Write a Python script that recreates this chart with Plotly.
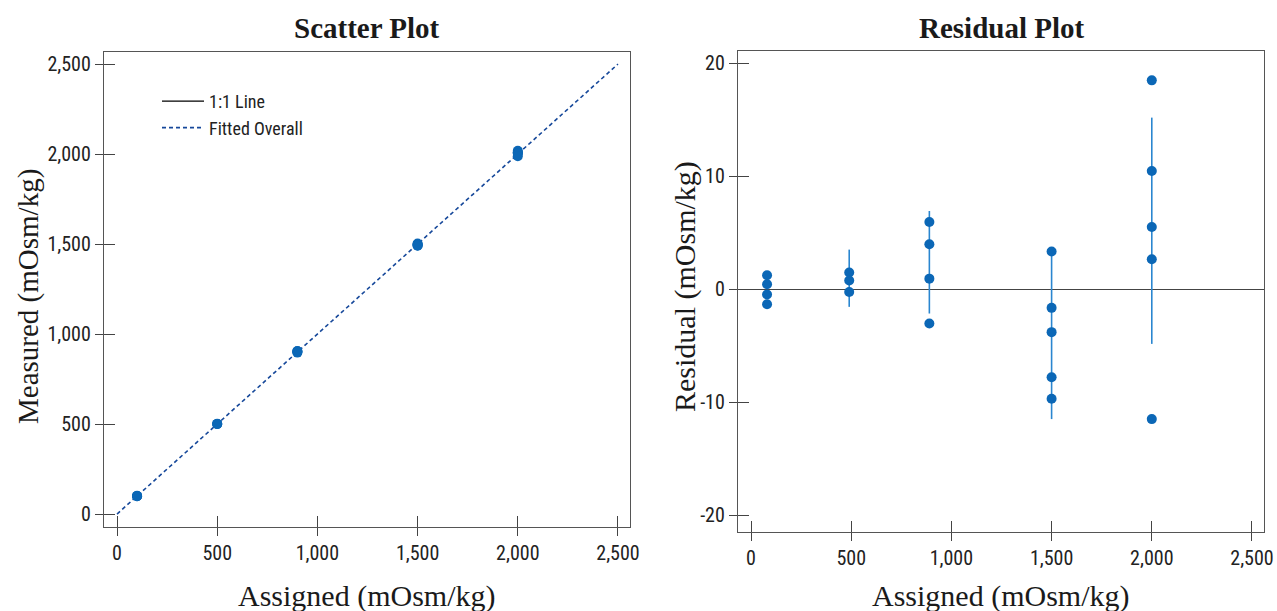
import plotly.graph_objects as go

# ---------------- data ----------------
assigned_levels = [100, 500, 900, 1500, 2000]
residual_x_levels = [80, 490, 890, 1500, 2000]
residuals = [
    [1.24, 0.44, -0.47, -1.33],
    [1.48, 0.77, -0.24],
    [5.96, 3.98, 0.94, -3.04],
    [3.34, -1.65, -3.8, -7.8, -9.7],
    [18.5, 10.47, 5.51, 2.65, -11.5],
]
interval_low = [None, -1.56, -2.15, -11.5, -4.84]
interval_high = [None, 3.51, 6.93, 3.74, 15.2]
line_range = [0, 2500]
x_ticks = [0, 500, 1000, 1500, 2000, 2500]
x_tick_labels = ["0", "500", "1,000", "1,500", "2,000", "2,500"]
left_y_ticks = [0, 500, 1000, 1500, 2000, 2500]
left_y_tick_labels = ["0", "500", "1,000", "1,500", "2,000", "2,500"]
right_y_ticks = [-20, -10, 0, 10, 20]
right_y_tick_labels = ["-20", "-10", "0", "10", "20"]

# derived
sc_x, sc_y, rx, ry = [], [], [], []
for a, ra, res in zip(assigned_levels, residual_x_levels, residuals):
    for r in res:
        sc_x.append(a)
        sc_y.append(a + r)
        rx.append(ra)
        ry.append(r)
ex, ey = [], []
for ra, lo, hi in zip(residual_x_levels, interval_low, interval_high):
    if lo is None:
        continue
    ex += [ra, ra, None]
    ey += [lo, hi, None]

MARK = "#0b67b6"
ERR = "#2a86d0"
FIT = "#16489a"
SANS = "Liberation Sans Narrow, Roboto Condensed, Liberation Sans, Arial"
SERIF = "Liberation Serif, DejaVu Serif, serif"

fig = go.Figure()
# 1:1 line lies under the fitted line; shown through its legend entry
fig.add_trace(go.Scatter(x=[None], y=[None], mode="lines", name="1:1 Line",
                         line=dict(color="black", width=1.3), xaxis="x", yaxis="y"))
fig.add_trace(go.Scatter(x=line_range, y=line_range, mode="lines", name="Fitted Overall",
                         line=dict(color=FIT, width=1.6, dash="4px,3px"), xaxis="x", yaxis="y"))
fig.add_trace(go.Scatter(x=sc_x, y=sc_y, mode="markers", showlegend=False,
                         marker=dict(color=MARK, size=10), xaxis="x", yaxis="y"))

fig.add_trace(go.Scatter(x=ex, y=ey, mode="lines", showlegend=False,
                         line=dict(color=ERR, width=1.6), xaxis="x2", yaxis="y2"))
fig.add_trace(go.Scatter(x=rx, y=ry, mode="markers", showlegend=False,
                         marker=dict(color=MARK, size=10), xaxis="x2", yaxis="y2"))

axis_common = dict(showgrid=False, zeroline=False, showline=True, linecolor="#555",
                   linewidth=1.3, mirror=True, ticks="outside", ticklen=8, tickwidth=1,
                   tickcolor="#444", tickfont=dict(family=SANS, size=20, color="#222"),
                   tickmode="array", automargin=False)
inner_common = dict(showgrid=False, zeroline=False, showline=False, ticks="inside",
                    ticklen=11, tickwidth=1, tickcolor="#444", showticklabels=False,
                    automargin=False)

xr1 = [-65, 2560]
yr1 = [-72, 2567]
xr2 = [-65, 2560]
yr2 = [-21.5, 21.1]
dx1 = [104 / 1277, 630 / 1277]
dy1 = [1 - 527 / 611, 1 - 52 / 611]
dx2 = [738 / 1277, 1264 / 1277]
dy2 = [1 - 532 / 611, 1 - 51 / 611]

fig.update_layout(
    width=1277, height=611,
    margin=dict(l=0, r=0, t=0, b=0),
    paper_bgcolor="white", plot_bgcolor="white",
    xaxis=dict(axis_common, domain=dx1, range=xr1, tickvals=x_ticks, ticktext=x_tick_labels, anchor="y"),
    yaxis=dict(axis_common, domain=dy1, range=yr1, tickvals=left_y_ticks, ticktext=left_y_tick_labels, anchor="x"),
    xaxis2=dict(axis_common, domain=dx2, range=xr2, tickvals=x_ticks, ticktext=x_tick_labels, anchor="y2"),
    yaxis2=dict(axis_common, domain=dy2, range=yr2, tickvals=right_y_ticks, ticktext=right_y_tick_labels,
                anchor="x2", zeroline=True, zerolinecolor="#444", zerolinewidth=1.3),
    xaxis3=dict(inner_common, overlaying="x", range=xr1, tickvals=x_ticks, anchor="y"),
    yaxis3=dict(inner_common, overlaying="y", range=yr1, tickvals=left_y_ticks, anchor="x"),
    xaxis4=dict(inner_common, overlaying="x2", range=xr2, tickvals=x_ticks, anchor="y2"),
    yaxis4=dict(inner_common, overlaying="y2", range=yr2, tickvals=right_y_ticks, anchor="x2"),
    legend=dict(x=157 / 1277, y=1 - 83 / 611, xanchor="left", yanchor="top",
                bgcolor="rgba(0,0,0,0)", font=dict(family=SANS, size=18, color="#222"),
                tracegroupgap=0, itemwidth=42),
    showlegend=True,
)

# dummy traces so overlay axes render
fig.add_trace(go.Scatter(x=[None], y=[None], xaxis="x3", yaxis="y3", showlegend=False, hoverinfo="skip"))
fig.add_trace(go.Scatter(x=[None], y=[None], xaxis="x4", yaxis="y4", showlegend=False, hoverinfo="skip"))

ann = [
    dict(text="<b>Scatter Plot</b>", x=(dx1[0] + dx1[1]) / 2, y=1 - 28 / 611, font=dict(size=29)),
    dict(text="<b>Residual Plot</b>", x=(dx2[0] + dx2[1]) / 2, y=1 - 28 / 611, font=dict(size=29)),
    dict(text="Assigned (mOsm/kg)", x=(dx1[0] + dx1[1]) / 2, y=1 - 596 / 611, font=dict(size=30)),
    dict(text="Assigned (mOsm/kg)", x=(dx2[0] + dx2[1]) / 2, y=1 - 596 / 611, font=dict(size=30)),
    dict(text="Measured (mOsm/kg)", x=28 / 1277, y=1 - 297 / 611, textangle=-90, font=dict(size=29)),
    dict(text="Residual (mOsm/kg)", x=685 / 1277, y=1 - 287 / 611, textangle=-90, font=dict(size=30)),
]
for a in ann:
    a["font"] = dict(family=SERIF, color="#1a1a1a", **a["font"])
    fig.add_annotation(xref="paper", yref="paper", showarrow=False,
                       xanchor="center", yanchor="middle", **a)

fig.write_html(
    "out.html", config={"displayModeBar": False},
    post_script="document.body.style.margin='0';document.body.style.overflow='hidden';")
